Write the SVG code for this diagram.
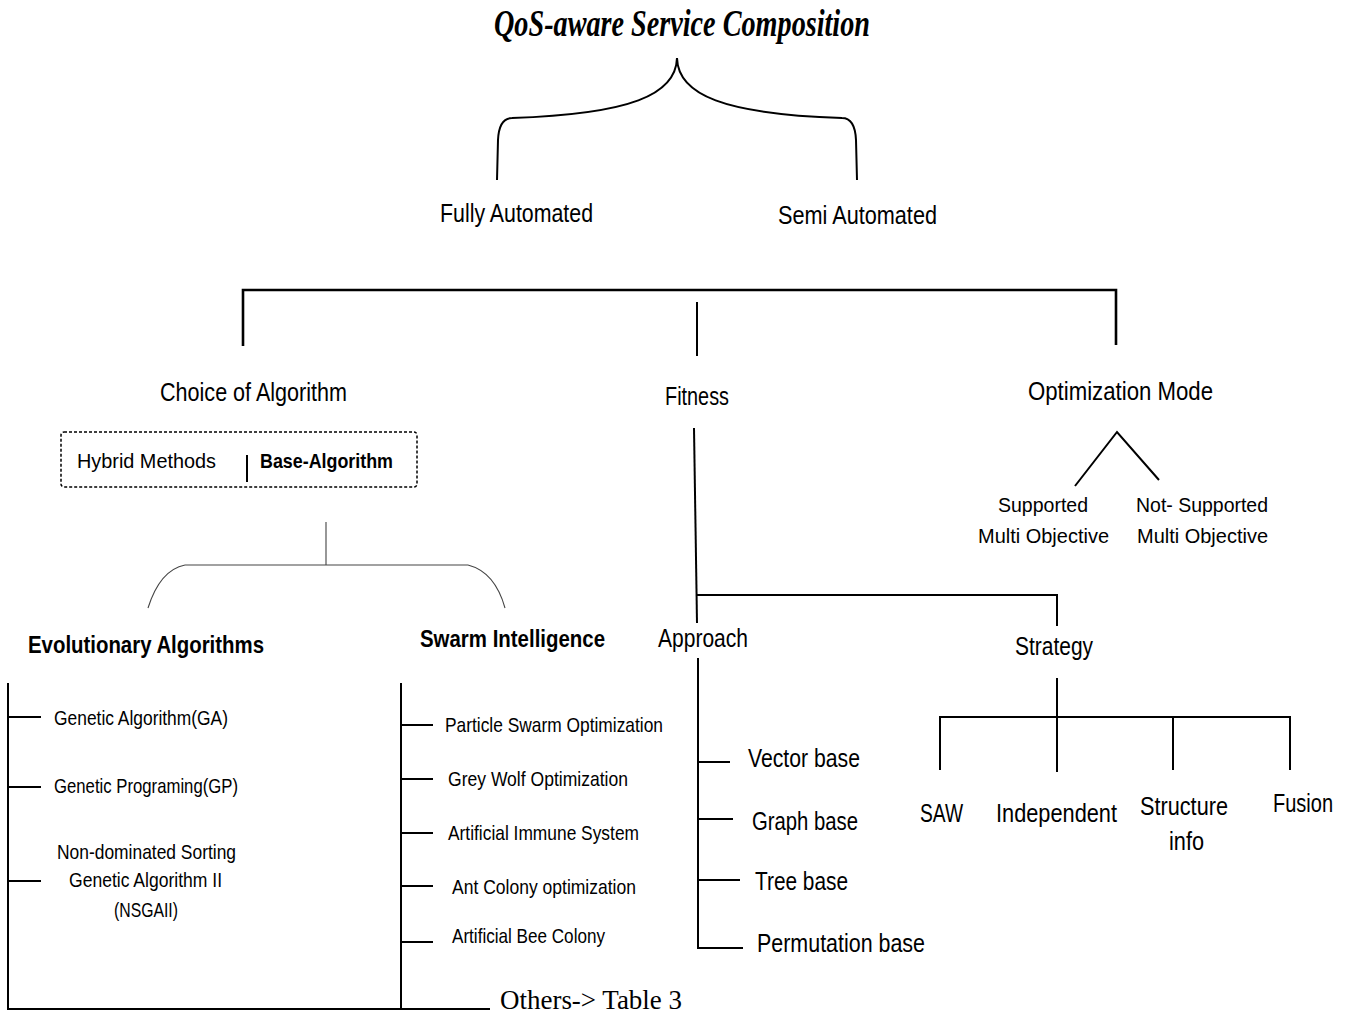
<svg xmlns="http://www.w3.org/2000/svg" width="1350" height="1017" viewBox="0 0 1350 1017">
<style>
text{font-family:"Liberation Sans","Open Sans",sans-serif;fill:#000}
.l{font-size:26px}
.m{font-size:25px}
.s{font-size:21px}
.b{font-weight:bold}
.serif{font-family:"Liberation Serif",serif}
.ln{fill:none;stroke:#000;stroke-width:2}
.thick{stroke-width:2.6}
.thin{fill:none;stroke:#444;stroke-width:1.1}
</style>
<rect width="1350" height="1017" fill="#fff"/>
<g id="connectors">
<path class="ln" d="M677,58 C676,95 630,114 512,118 Q499,118 498,140 L497,180"/>
<path class="ln" d="M677,58 C678,95 724,114 842,118 Q855,118 856,140 L857,180"/>
<path class="ln thick" d="M243,346 V290 H1116 V345"/>
<path class="ln" d="M697,302 V356"/>
<path class="ln" d="M694,428 L697,623"/>
<path class="ln" d="M697,595 H1057 V626"/>
<path class="ln" d="M698,658 V948 H743"/>
<path class="ln" d="M698,762 H730 M698,819 H733 M698,880 H740"/>
<path class="ln" d="M1057,678 V772 M940,770 V717 H1290 V770 M1173,717 V770"/>
<path class="ln" d="M1075,486 L1117,432 L1159,480"/>
<path class="thin" d="M326,522 V565 M185,565 H468 M185,565 Q160,570 148,608 M468,565 Q495,572 505,608"/>
<path class="ln" d="M8,683 V1009 H490 M401,683 V1009"/>
<path class="ln" d="M8,717 H41 M8,787 H41 M8,881 H41"/>
<path class="ln" d="M401,725 H433 M401,779 H433 M401,833 H433 M401,886 H433 M401,942 H433"/>
<path d="M247,455 V482" stroke="#000" stroke-width="2"/>
</g>
<g id="title"><text class="serif" x="494" y="36" font-size="38" font-weight="bold" font-style="italic" textLength="376" lengthAdjust="spacingAndGlyphs">QoS-aware Service Composition</text></g>
<g id="fully"><text class="l" x="440" y="222" textLength="153" lengthAdjust="spacingAndGlyphs">Fully Automated</text></g>
<g id="semi"><text class="l" x="778" y="224" textLength="159" lengthAdjust="spacingAndGlyphs">Semi Automated</text></g>
<g id="choice"><text class="l" x="160" y="401" textLength="187" lengthAdjust="spacingAndGlyphs">Choice of Algorithm</text></g>
<g id="fitness"><text class="m" x="665" y="405" textLength="64" lengthAdjust="spacingAndGlyphs">Fitness</text></g>
<g id="optmode"><text class="l" x="1028" y="400" textLength="185" lengthAdjust="spacingAndGlyphs">Optimization Mode</text></g>
<g id="basebox">
<rect x="61" y="432" width="356" height="55" rx="3" fill="none" stroke="#000" stroke-width="1.5" stroke-dasharray="3 2"/>
<text class="s" x="77" y="468" textLength="139" lengthAdjust="spacingAndGlyphs">Hybrid Methods</text>
<text class="s b" x="260" y="468" textLength="133" lengthAdjust="spacingAndGlyphs">Base-Algorithm</text>
</g>
<g id="evo"><text class="b" font-size="24" x="28" y="653" textLength="236" lengthAdjust="spacingAndGlyphs">Evolutionary Algorithms</text></g>
<g id="swarm"><text class="b" font-size="24" x="420" y="647" textLength="185" lengthAdjust="spacingAndGlyphs">Swarm Intelligence</text></g>
<g id="ga"><text class="s" x="54" y="725" textLength="174" lengthAdjust="spacingAndGlyphs">Genetic Algorithm(GA)</text></g>
<g id="gp"><text class="s" x="54" y="793" textLength="184" lengthAdjust="spacingAndGlyphs">Genetic Programing(GP)</text></g>
<g id="nsga">
<text class="s" x="57" y="859" textLength="179" lengthAdjust="spacingAndGlyphs">Non-dominated Sorting</text>
<text class="s" x="69" y="887" textLength="153" lengthAdjust="spacingAndGlyphs">Genetic Algorithm II</text>
<text class="s" x="114" y="917" textLength="64" lengthAdjust="spacingAndGlyphs">(NSGAII)</text>
</g>
<g id="pso"><text class="s" x="445" y="732" textLength="218" lengthAdjust="spacingAndGlyphs">Particle Swarm Optimization</text></g>
<g id="gwo"><text class="s" x="448" y="786" textLength="180" lengthAdjust="spacingAndGlyphs">Grey Wolf Optimization</text></g>
<g id="ais"><text class="s" x="448" y="840" textLength="191" lengthAdjust="spacingAndGlyphs">Artificial Immune System</text></g>
<g id="aco"><text class="s" x="452" y="894" textLength="184" lengthAdjust="spacingAndGlyphs">Ant Colony optimization</text></g>
<g id="abc"><text class="s" x="452" y="943" textLength="153" lengthAdjust="spacingAndGlyphs">Artificial Bee Colony</text></g>
<g id="others"><text class="serif" font-size="28" x="500" y="1009" textLength="182" lengthAdjust="spacingAndGlyphs">Others-&gt; Table 3</text></g>
<g id="approach"><text class="m" x="658" y="647" textLength="90" lengthAdjust="spacingAndGlyphs">Approach</text></g>
<g id="vector"><text class="m" x="748" y="767" textLength="112" lengthAdjust="spacingAndGlyphs">Vector base</text></g>
<g id="graph"><text class="m" x="752" y="830" textLength="106" lengthAdjust="spacingAndGlyphs">Graph base</text></g>
<g id="tree"><text class="m" x="755" y="890" textLength="93" lengthAdjust="spacingAndGlyphs">Tree base</text></g>
<g id="perm"><text class="m" x="757" y="952" textLength="168" lengthAdjust="spacingAndGlyphs">Permutation base</text></g>
<g id="strategy"><text class="m" x="1015" y="655" textLength="78" lengthAdjust="spacingAndGlyphs">Strategy</text></g>
<g id="saw"><text class="m" x="920" y="822" textLength="43" lengthAdjust="spacingAndGlyphs">SAW</text></g>
<g id="independent"><text class="m" x="996" y="822" textLength="121" lengthAdjust="spacingAndGlyphs">Independent</text></g>
<g id="structure">
<text class="m" x="1140" y="815" textLength="88" lengthAdjust="spacingAndGlyphs">Structure</text>
<text class="m" x="1169" y="850" textLength="35" lengthAdjust="spacingAndGlyphs">info</text>
</g>
<g id="fusion"><text class="m" x="1273" y="812" textLength="60" lengthAdjust="spacingAndGlyphs">Fusion</text></g>
<g id="supported">
<text class="s" font-size="22" x="998" y="512" textLength="90" lengthAdjust="spacingAndGlyphs">Supported</text>
<text class="s" font-size="22" x="978" y="543" textLength="131" lengthAdjust="spacingAndGlyphs">Multi Objective</text>
</g>
<g id="notsupported">
<text class="s" font-size="22" x="1136" y="512" textLength="132" lengthAdjust="spacingAndGlyphs">Not- Supported</text>
<text class="s" font-size="22" x="1137" y="543" textLength="131" lengthAdjust="spacingAndGlyphs">Multi Objective</text>
</g>
</svg>
